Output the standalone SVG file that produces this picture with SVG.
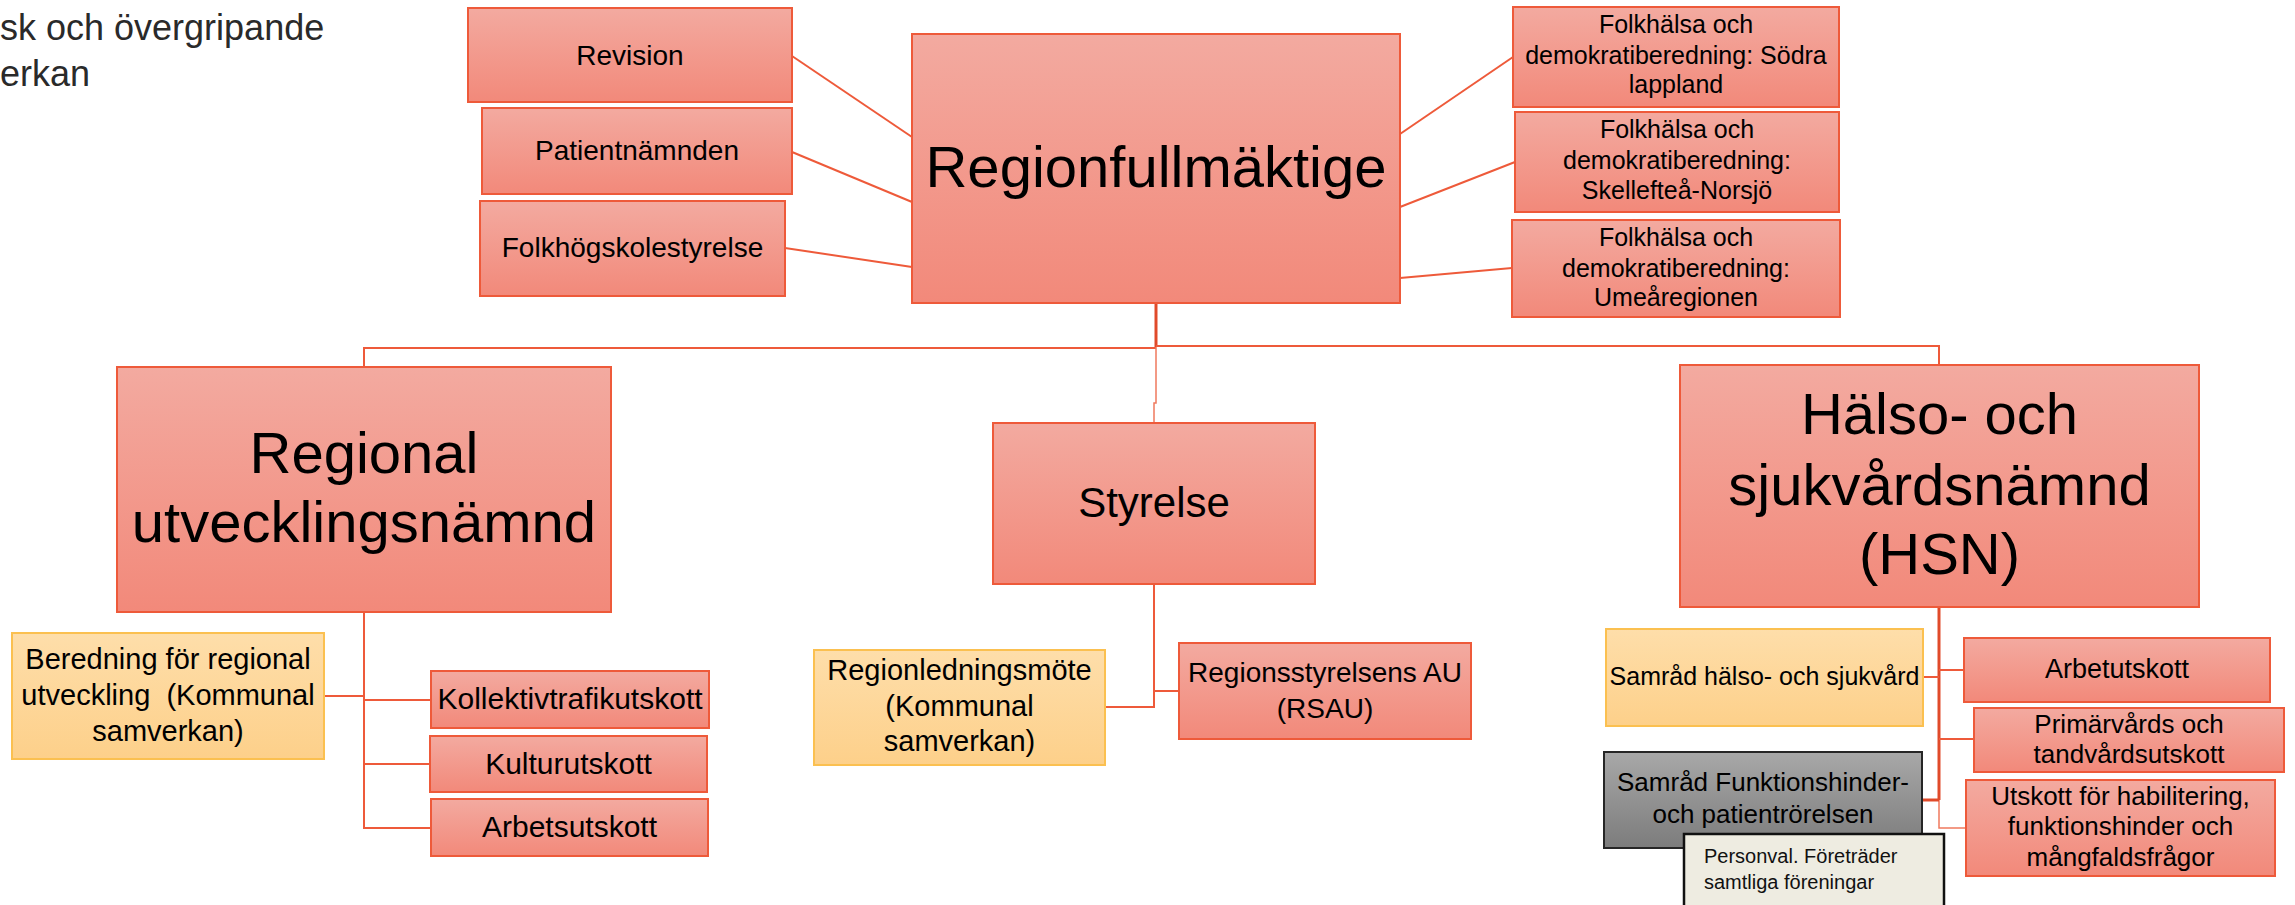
<svg xmlns="http://www.w3.org/2000/svg" width="2295" height="905" viewBox="0 0 2295 905">
<defs>
<linearGradient id="gRed" x1="0" y1="0" x2="0" y2="1"><stop offset="0" stop-color="#F3AAA0"/><stop offset="1" stop-color="#F2897A"/></linearGradient>
<linearGradient id="gYel" x1="0" y1="0" x2="0" y2="1"><stop offset="0" stop-color="#FEDEAA"/><stop offset="1" stop-color="#FDD08A"/></linearGradient>
<linearGradient id="gGray" x1="0" y1="0" x2="0" y2="1"><stop offset="0" stop-color="#A8A8A8"/><stop offset="1" stop-color="#7C7C7C"/></linearGradient>
<style>
.box{fill:url(#gRed);stroke:#EE5A3A;stroke-width:2}
.ybox{fill:url(#gYel);stroke:#FBC050;stroke-width:2}
.gbox{fill:url(#gGray);stroke:#262626;stroke-width:2}
.pbox{fill:#EEECE1;stroke:#111;stroke-width:2.5}
text{font-family:"Liberation Sans",Arial,sans-serif;fill:#000;text-anchor:middle}
.t25{font-size:25px}.t26{font-size:26px}.t27{font-size:27px}.t28{font-size:28px}.t29{font-size:29px}.t30{font-size:30px}
.big{font-size:58px}
.conn path{fill:none;stroke:#EE5A3A;stroke-width:2}
.conn .thick{stroke:#E04A2A;stroke-width:3}
.conn .thin{stroke:#F07A5E;stroke-width:1.5}
.title{font-size:36px;text-anchor:start;fill:#2A2A2A}
.note{font-size:20px;text-anchor:start;fill:#111}
</style>
</defs>

<g id="title">
<text class="title" x="0" y="40">sk och övergripande</text>
<text class="title" x="0" y="86">erkan</text>
</g>

<g class="conn" id="connectors">
<path d="M792,56 L912,137"/>
<path d="M792,152 L912,202"/>
<path d="M785,248 L912,267"/>
<path d="M1400,134 L1513,57"/>
<path d="M1400,207 L1515,162"/>
<path d="M1400,278 L1512,268"/>
<path class="thick" d="M1156,303 L1156,347"/>
<path d="M1156,348 L364,348 L364,367"/>
<path d="M1156,346 L1939,346 L1939,365"/>
<path class="thin" d="M1156,347 L1156,403 L1154,403 L1154,423"/>
<path d="M1154,584 L1154,707 L1105,707"/>
<path d="M1154,691 L1179,691"/>
<path d="M364,612 L364,828 L431,828"/>
<path d="M364,696 L324,696"/>
<path d="M364,700 L431,700"/>
<path d="M364,764 L430,764"/>
<path class="thick" d="M1939,607 L1939,800"/>
<path class="thin" d="M1939,800 L1939,828 L1966,828"/>
<path d="M1939,677 L1923,677"/>
<path d="M1939,670 L1964,670"/>
<path d="M1939,739 L1974,739"/>
<path class="thick" d="M1939,800 L1922,800"/>
</g>

<g id="revision"><rect class="box" x="468" y="8" width="324" height="94"/><text class="t28" x="630" y="65">Revision</text></g>
<g id="patientnamnden"><rect class="box" x="482" y="108" width="310" height="86"/><text class="t28" x="637" y="160">Patientnämnden</text></g>
<g id="folkhogskolestyrelse"><rect class="box" x="480" y="201" width="305" height="95"/><text class="t28" x="632.5" y="257">Folkhögskolestyrelse</text></g>

<g id="regionfullmaktige"><rect class="box" x="912" y="34" width="488" height="269"/><text class="big" x="1156" y="187">Regionfullmäktige</text></g>

<g id="fh-sodra-lappland"><rect class="box" x="1513" y="7" width="326" height="100"/>
<text class="t25" x="1676" y="33">Folkhälsa och</text><text class="t25" x="1676" y="64">demokratiberedning: Södra</text><text class="t25" x="1676" y="93">lappland</text></g>
<g id="fh-skelleftea"><rect class="box" x="1515" y="112" width="324" height="100"/>
<text class="t25" x="1677" y="138">Folkhälsa och</text><text class="t25" x="1677" y="169">demokratiberedning:</text><text class="t25" x="1677" y="199">Skellefteå-Norsjö</text></g>
<g id="fh-umearegionen"><rect class="box" x="1512" y="220" width="328" height="97"/>
<text class="t25" x="1676" y="246">Folkhälsa och</text><text class="t25" x="1676" y="277">demokratiberedning:</text><text class="t25" x="1676" y="306">Umeåregionen</text></g>

<g id="regional-utvecklingsnamnd"><rect class="box" x="117" y="367" width="494" height="245"/>
<text class="big" x="364" y="473">Regional</text><text class="big" x="364" y="542">utvecklingsnämnd</text></g>

<g id="styrelse"><rect class="box" x="993" y="423" width="322" height="161"/><text x="1154" y="517" style="font-size:42px">Styrelse</text></g>

<g id="hsn"><rect class="box" x="1680" y="365" width="519" height="242"/>
<text class="big" x="1939.5" y="434">Hälso- och</text><text class="big" x="1939.5" y="505">sjukvårdsnämnd</text><text class="big" x="1939.5" y="574">(HSN)</text></g>

<g id="beredning"><rect class="ybox" x="12" y="633" width="312" height="126"/>
<text class="t29" x="168" y="669">Beredning för regional</text><text class="t29" x="168" y="705" style="white-space:pre">utveckling  (Kommunal</text><text class="t29" x="168" y="741">samverkan)</text></g>

<g id="kollektivtrafikutskott"><rect class="box" x="431" y="671" width="278" height="57"/><text class="t30" x="570" y="709">Kollektivtrafikutskott</text></g>
<g id="kulturutskott"><rect class="box" x="430" y="736" width="277" height="56"/><text class="t30" x="568.5" y="774">Kulturutskott</text></g>
<g id="arbetsutskott"><rect class="box" x="431" y="799" width="277" height="57"/><text class="t30" x="569.5" y="837">Arbetsutskott</text></g>

<g id="regionledningsmote"><rect class="ybox" x="814" y="650" width="291" height="115"/>
<text class="t29" x="959.5" y="680">Regionledningsmöte</text><text class="t29" x="959.5" y="716">(Kommunal</text><text class="t29" x="959.5" y="751">samverkan)</text></g>

<g id="rsau"><rect class="box" x="1179" y="643" width="292" height="96"/>
<text class="t28" x="1325" y="682">Regionsstyrelsens AU</text><text class="t28" x="1325" y="718">(RSAU)</text></g>

<g id="samrad-halso"><rect class="ybox" x="1606" y="629" width="317" height="97"/><text class="t25" x="1764.5" y="685">Samråd hälso- och sjukvård</text></g>

<g id="hsn-arbetutskott"><rect class="box" x="1964" y="638" width="306" height="64"/><text class="t27" x="2117" y="678">Arbetutskott</text></g>
<g id="primarvards"><rect class="box" x="1974" y="708" width="310" height="64"/>
<text class="t26" x="2129" y="733">Primärvårds och</text><text class="t26" x="2129" y="763">tandvårdsutskott</text></g>
<g id="utskott-habilitering"><rect class="box" x="1966" y="780" width="309" height="96"/>
<text class="t26" x="2120.5" y="805">Utskott för habilitering,</text><text class="t26" x="2120.5" y="835">funktionshinder och</text><text class="t26" x="2120.5" y="866">mångfaldsfrågor</text></g>

<g id="samrad-funktionshinder"><rect class="gbox" x="1604" y="752" width="318" height="96"/>
<text class="t26" x="1763" y="791">Samråd Funktionshinder-</text><text class="t26" x="1763" y="823">och patientrörelsen</text></g>

<g id="personval"><rect class="pbox" x="1684" y="834" width="260" height="80"/>
<text class="note" x="1704" y="863">Personval. Företräder</text><text class="note" x="1704" y="889">samtliga föreningar</text></g>
</svg>
